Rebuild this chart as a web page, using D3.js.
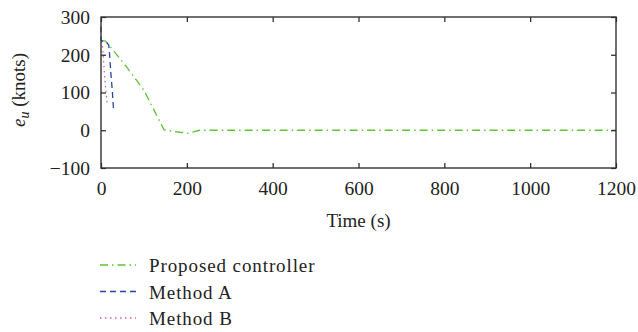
<!DOCTYPE html>
<html>
<head>
<meta charset="utf-8">
<script src="https://cdnjs.cloudflare.com/ajax/libs/d3/7.8.5/d3.min.js"></script>
<style>
  body { margin: 0; background: #fff; }
  text { font-family: "Liberation Serif", "DejaVu Serif", serif; fill: #222; }
</style>
</head>
<body>
<div id="chart"></div>
<script>
// time (s) / error e_u (knots)
const proposedT = [0, 10, 20, 60, 100, 147, 175, 202, 230, 400, 800, 1200];
const proposedE = [238, 236, 224, 167, 106, 1, -4, -8, 0, 0, 0, 0];
const methodAT = [0, 0, 3, 8, 14, 18, 20, 23, 26, 29];
const methodAE = [275, 240, 236, 234, 231, 226, 200, 150, 110, 58];
const methodBT = [1, 3, 5, 8, 11, 13, 15];
const methodBE = [236, 228, 200, 150, 110, 85, 66];
const xTicks = [0, 200, 400, 600, 800, 1000, 1200];
const yTicks = [-100, 0, 100, 200, 300];
const seriesNames = ["Proposed controller", "Method A", "Method B"];

const svg = d3.select("#chart").append("svg")
    .attr("width", 638)
    .attr("height", 332);

const margin = { top: 17, right: 22, bottom: 164, left: 101 },
    width = 638 - margin.left - margin.right,
    height = 332 - margin.top - margin.bottom;

const x = d3.scaleLinear().domain([0, 1200]).range([margin.left, margin.left + width]);
const y = d3.scaleLinear().domain([-100, 300]).range([margin.top + height, margin.top]);

const series = [
    { name: seriesNames[0], t: proposedT, e: proposedE, color: "#5cc435", dash: "8,4,1.5,4" },
    { name: seriesNames[1], t: methodAT, e: methodAE, color: "#2646a8", dash: "6,4" },
    { name: seriesNames[2], t: methodBT, e: methodBE, color: "#d060c8", dash: "1.5,3.5" }
];

const line = d3.line().x(d => x(d[0])).y(d => y(d[1]));

// lines first, frame drawn on top
series.forEach(s => {
    svg.append("path")
        .datum(s.t.map((t, i) => [t, s.e[i]]))
        .attr("d", line)
        .attr("fill", "none")
        .attr("stroke", s.color)
        .attr("stroke-width", 1.3)
        .attr("stroke-dasharray", s.dash);
});

// axes with inward ticks on all four sides
const tick = 5;
svg.append("g")
    .attr("transform", `translate(0,${y(-100)})`)
    .call(d3.axisBottom(x).tickValues(xTicks).tickSizeInner(-tick).tickSizeOuter(0).tickPadding(13)
        .tickFormat(d3.format("d")))
    .call(g => g.select(".domain").remove());
svg.append("g")
    .attr("transform", `translate(0,${y(300)})`)
    .call(d3.axisTop(x).tickValues(xTicks).tickSizeInner(-tick).tickSizeOuter(0).tickFormat(""))
    .call(g => g.select(".domain").remove());
svg.append("g")
    .attr("transform", `translate(${x(0)},0)`)
    .call(d3.axisLeft(y).tickValues(yTicks).tickSizeInner(-tick).tickSizeOuter(0).tickPadding(11)
        .tickFormat(d => d < 0 ? "\u2212" + Math.abs(d) : d))
    .call(g => g.select(".domain").remove());
svg.append("g")
    .attr("transform", `translate(${x(1200)},0)`)
    .call(d3.axisRight(y).tickValues(yTicks).tickSizeInner(-tick).tickSizeOuter(0).tickFormat(""))
    .call(g => g.select(".domain").remove());

svg.selectAll(".tick line").attr("stroke", "#222").attr("stroke-width", 1.2);
svg.selectAll(".tick text")
    .style("font-family", "Liberation Serif, serif")
    .style("font-size", "19.5px")
    .attr("fill", "#222");

svg.append("rect")
    .attr("x", x(0)).attr("y", y(300))
    .attr("width", x(1200) - x(0)).attr("height", y(-100) - y(300))
    .attr("fill", "none")
    .attr("stroke", "#333")
    .attr("stroke-width", 1.4);

svg.append("text")
    .attr("x", x(600))
    .attr("y", 227)
    .attr("text-anchor", "middle")
    .style("font-size", "19px")
    .text("Time (s)");

const yl = svg.append("text")
    .attr("transform", "translate(25,90) rotate(-90)")
    .attr("text-anchor", "middle")
    .style("font-size", "19px");
yl.append("tspan").style("font-style", "italic").text("e");
yl.append("tspan").attr("dy", 4).style("font-style", "italic").style("font-size", "14px").text("u");
yl.append("tspan").attr("dy", -4).text(" (knots)");

const legend = svg.append("g").attr("transform", "translate(100,265)");
series.forEach((s, i) => {
    const row = legend.append("g").attr("transform", `translate(0,${i * 26.5})`);
    row.append("line")
        .attr("x1", 0).attr("x2", 36)
        .attr("stroke", s.color)
        .attr("stroke-width", 1.3)
        .attr("stroke-dasharray", s.dash);
    row.append("text")
        .attr("x", 49)
        .attr("y", 7)
        .style("font-size", "19px")
        .style("letter-spacing", "0.9px")
        .text(s.name);
});
</script>
</body>
</html>
